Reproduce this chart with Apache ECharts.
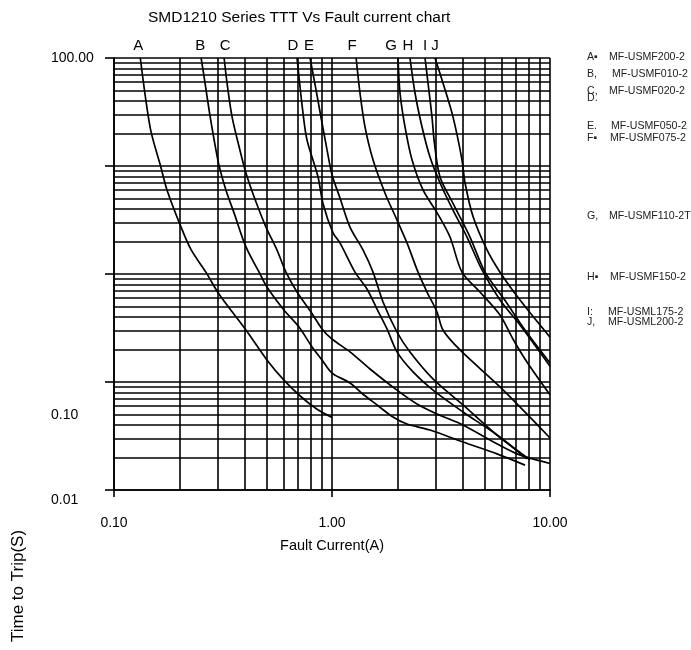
<!DOCTYPE html>
<html><head><meta charset="utf-8">
<script src="https://cdn.jsdelivr.net/npm/echarts@6/dist/echarts.min.js"></script>
<style>html,body{margin:0;padding:0;background:#fff}#c{width:691px;height:650px}</style>
</head><body><div id="c"></div>
<script>
// ---- data (current A, time s) ----
const curveA = [[0.132,100],[0.140,40.8],[0.148,20.6],[0.164,9.8],[0.175,6.0],[0.203,2.72],[0.226,1.67],[0.264,1.04],[0.303,0.653],[0.403,0.303],[0.503,0.160],[0.602,0.104],[0.721,0.073],[0.854,0.056],[1.0,0.047]];
const curveB = [[0.251,100],[0.259,66.7],[0.273,33],[0.288,17.4],[0.303,10.2],[0.326,6.0],[0.355,3.7],[0.403,1.78],[0.463,1.04],[0.503,0.758],[0.602,0.464],[0.706,0.323],[0.810,0.211],[0.900,0.160],[1.0,0.121],[1.209,0.098],[1.387,0.077],[1.609,0.0613],[1.905,0.0474],[2.208,0.0408],[2.815,0.0359],[3.989,0.0278],[5.713,0.0216],[7.68,0.017]];
const curveC = [[0.320,100],[0.330,58.7],[0.348,28.5],[0.375,15.0],[0.403,8.6],[0.439,5.2],[0.498,2.72],[0.559,1.67],[0.615,1.04],[0.691,0.681],[0.801,0.445],[0.900,0.310],[1.0,0.25],[1.209,0.19],[1.494,0.132],[1.987,0.084],[2.455,0.0625],[3.031,0.0505],[3.989,0.040],[5.306,0.029],[7.058,0.0216],[8.27,0.0195],[10,0.0176]];
const curveD = [[0.691,100],[0.736,31],[0.768,17.4],[0.863,7.9],[0.909,4.5],[1.011,2.4],[1.088,1.94],[1.275,1.04],[1.447,0.727],[1.609,0.474],[1.788,0.31],[1.987,0.19],[2.353,0.124],[2.906,0.084],[3.989,0.0528],[5.713,0.0323],[7.84,0.0194]];
const curveE = [[0.793,100],[0.845,50.6],[0.900,25],[0.949,14.1],[1.0,8.3],[1.088,5.06],[1.209,2.72],[1.387,1.67],[1.542,1.04],[1.714,0.551],[1.987,0.29],[2.279,0.19],[2.906,0.107],[3.989,0.0613],[5.713,0.0323],[8.1,0.019]];
const curveF = [[1.29,100],[1.344,47.4],[1.417,23],[1.542,11.4],[1.751,5.6],[1.987,3.16],[2.208,1.94],[2.481,1.04],[2.728,0.681],[3.031,0.445],[3.229,0.303],[3.865,0.198],[5.897,0.090],[10,0.0303]];
const curveG = [[2.008,100],[2.051,47.4],[2.162,23],[2.328,11.4],[2.615,6.0],[3.031,3.7],[3.478,2.2],[3.947,1.04],[4.77,0.681],[5.897,0.417],[6.76,0.25],[7.84,0.153],[10,0.076]];
const curveH = [[2.279,100],[2.403,47.4],[2.588,23],[2.815,12.1],[3.129,7.0],[3.589,3.9],[4.162,2.2],[4.876,1.09],[5.897,0.574],[7.285,0.337],[10,0.14]];
const curveI = [[2.671,100],[2.757,58.7],[2.875,28.5],[2.95,16.3],[3.129,7.9],[3.589,4.5],[4.295,2.2],[5.034,1.04],[6.2,0.574],[7.679,0.303],[10,0.15]];
const curveJ = [[2.968,100],[3.229,58.7],[3.589,28.5],[3.947,11.4],[4.075,7.0],[4.436,3.4],[5.141,1.67],[5.897,1.04],[7.285,0.574],[10,0.26]];

const curveLetters = ['A','B','C','D','E','F','G','H','I','J'];
const legendMarks = ['A▪','B,','C,','D.','E.','F▪','G,','H▪','I:','J,'];
const partNames = ['MF-USMF200-2','MF-USMF010-2','MF-USMF020-2','','MF-USMF050-2','MF-USMF075-2','MF-USMF110-2T','MF-USMF150-2','MF-USML175-2','MF-USML200-2'];

const xMinorGrid = [0.2,0.3,0.4,0.5,0.6,0.7,0.8,0.9,2,3,4,5,6,7,8,9];
const yMinorGrid = [0.02,0.03,0.04,0.05,0.06,0.07,0.08,0.09,0.2,0.3,0.4,0.5,0.6,0.7,0.8,0.9,2,3,4,5,6,7,8,9,20,30,40,50,60,70,80,90];
const yTickValues = [100,10,1,0.1,0.01];
const yTickLabels = ['100.00','','','0.10','0.01'];
const yTickStyles = ['t','t','t','m','b'];

const titleText = 'SMD1210 Series TTT Vs Fault current chart';
const xName = 'Fault Current(A)';
const yName = 'Time to Trip(S)';

// ---- layout / style ----
const FONT = '"Liberation Sans", Arial, sans-serif';
const letterNudge = [-2,-1,1,-4,-1,-4,-7,-2,0,0];
const legendY = [57,74,91,98,126,138,216,277,312,322];
const legendTextX = [609,612,609,609,611,610,609,610,608,608];

const curves = [curveA,curveB,curveC,curveD,curveE,curveF,curveG,curveH,curveI,curveJ];

const series = curves.map((d,i)=>({
  type:'line',
  name: curveLetters[i],
  data: d.map((p,j)=> j===0 ? {value:p, label:{show:true, formatter:curveLetters[i], position:'top', distance:5, offset:[letterNudge[i],0], fontSize:15, color:'#000', fontFamily:FONT}} : {value:p}),
  symbol:'circle', symbolSize:0.1, showSymbol:true,
  itemStyle:{color:'rgba(0,0,0,0)'},
  smooth:0.3,
  lineStyle:{color:'#000', width:1.7},
  emphasis:{disabled:true},
  silent:true, animation:false, z:3
}));

series[0].markLine = {
  silent:true, animation:false, symbol:['none','none'],
  label:{show:false},
  emphasis:{disabled:true},
  lineStyle:{color:'#000', width:1.6, type:'solid'},
  data:[...xMinorGrid.map(v=>({xAxis:v})), ...yMinorGrid.map(v=>({yAxis:v}))]
};

const graphics = [{
  type:'text', x:18, y:586, rotation:Math.PI/2,
  style:{text:yName, font:'17px '+FONT, fill:'#000', align:'center', verticalAlign:'middle'}
}];
legendMarks.forEach((m,i)=>{
  graphics.push({type:'text', x:587, y:legendY[i], style:{text:m, font:'10.6px '+FONT, fill:'#222', align:'left', verticalAlign:'middle'}});
  if (partNames[i]) graphics.push({type:'text', x:legendTextX[i], y:legendY[i], style:{text:partNames[i], font:'10.6px '+FONT, fill:'#222', align:'left', verticalAlign:'middle'}});
});

function yLabel(v){
  for (let i=0;i<yTickValues.length;i++){
    if (Math.abs(Math.log10(v)-Math.log10(yTickValues[i]))<1e-6){
      return yTickLabels[i] ? '{'+yTickStyles[i]+'|'+yTickLabels[i]+'}' : '';
    }
  }
  return '';
}

const chart = echarts.init(document.getElementById('c'), null, {renderer:'canvas'});
chart.setOption({
  animation:false,
  backgroundColor:'#fff',
  title:{text:titleText, left:148, top:10, padding:0, textStyle:{fontSize:15.5, fontWeight:'normal', color:'#000', fontFamily:FONT}},
  grid:{left:114, top:58, right:141, bottom:160, containLabel:false},
  xAxis:{
    type:'log', logBase:10, min:0.1, max:10,
    axisLine:{show:true, onZero:false, lineStyle:{color:'#000', width:1.6}},
    axisTick:{show:true, length:7, inside:false, lineStyle:{color:'#000', width:1.6}},
    axisLabel:{margin:26, fontSize:14, color:'#000', fontFamily:FONT, formatter:v=>v.toFixed(2)},
    splitLine:{show:true, lineStyle:{color:'#000', width:1.6}},
    name:xName, nameLocation:'middle', nameGap:48,
    nameTextStyle:{fontSize:14.5, color:'#000', fontFamily:FONT}
  },
  yAxis:{
    type:'log', logBase:10, min:0.01, max:100,
    axisLine:{show:true, onZero:false, lineStyle:{color:'#000', width:1.6}},
    axisTick:{show:true, length:9, inside:false, lineStyle:{color:'#000', width:1.6}},
    axisLabel:{align:'left', margin:63, color:'#000', fontFamily:FONT, fontSize:14, formatter:yLabel,
      rich:{
        t:{fontSize:14, fontFamily:FONT, color:'#000'},
        m:{fontSize:14, fontFamily:FONT, color:'#000', padding:[66,0,0,0]},
        b:{fontSize:14, fontFamily:FONT, color:'#000', padding:[20,0,0,0]}
      }},
    splitLine:{show:true, lineStyle:{color:'#000', width:1.6}}
  },
  graphic:graphics,
  series:series
});
</script></body></html>
